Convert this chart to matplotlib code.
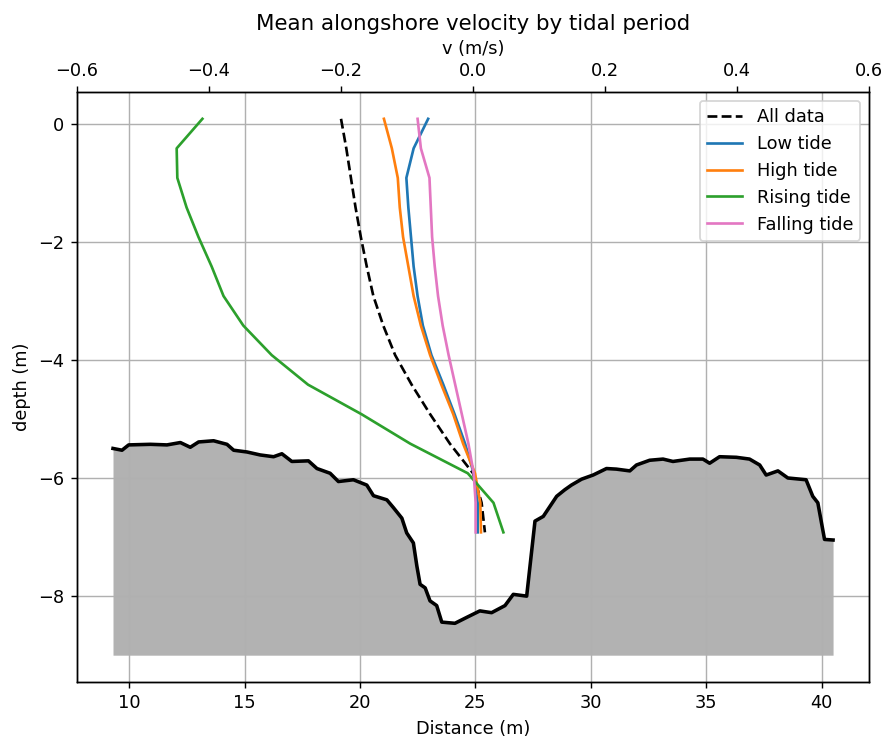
import numpy as np
import matplotlib
matplotlib.use('Agg')
import matplotlib.pyplot as plt

# bathymetry (distance along transect, bed elevation)
bed_x = [9.29, 9.68, 9.97, 10.91, 11.63, 12.21, 12.64, 13.0, 13.65, 14.23, 14.52,
         15.10, 15.67, 16.25, 16.61, 17.04, 17.76, 18.13, 18.70, 19.06, 19.71,
         20.29, 20.58, 21.16, 21.44, 21.81, 22.02, 22.31, 22.46, 22.60, 22.82,
         23.03, 23.32, 23.54, 24.11, 24.62, 25.19, 25.70, 26.28, 26.64, 27.22,
         27.58, 27.94, 28.23, 28.52, 28.87, 29.16, 29.60, 30.10, 30.68, 31.11,
         31.69, 31.98, 32.55, 33.13, 33.56, 34.29, 34.86, 35.15, 35.58, 36.31,
         36.88, 37.32, 37.60, 38.11, 38.54, 39.33, 39.62, 39.84, 40.13, 40.50]
bed_z = [-5.50, -5.53, -5.44, -5.43, -5.44, -5.40, -5.48, -5.39, -5.37, -5.43, -5.53,
         -5.56, -5.61, -5.64, -5.59, -5.72, -5.71, -5.84, -5.92, -6.06, -6.03,
         -6.12, -6.30, -6.37, -6.50, -6.68, -6.93, -7.10, -7.49, -7.80, -7.86,
         -8.08, -8.16, -8.44, -8.46, -8.36, -8.25, -8.28, -8.16, -7.97, -8.00,
         -6.73, -6.65, -6.48, -6.31, -6.20, -6.12, -6.02, -5.95, -5.84, -5.85,
         -5.88, -5.78, -5.70, -5.68, -5.72, -5.68, -5.68, -5.75, -5.64, -5.65,
         -5.68, -5.78, -5.95, -5.88, -6.00, -6.03, -6.31, -6.42, -7.04, -7.05]
bed_bottom = -9.0

# velocity profiles (depth bins, mean alongshore velocity)
depth = [0.08, -0.42, -0.92, -1.42, -1.92, -2.42, -2.92, -3.42, -3.92, -4.42,
         -4.92, -5.42, -5.92, -6.42, -6.92]
v_all = [-0.200, -0.192, -0.185, -0.178, -0.170, -0.161, -0.151, -0.136, -0.118,
         -0.093, -0.065, -0.035, 0.000, 0.013, 0.018]
v_low = [-0.068, -0.090, -0.101, -0.098, -0.094, -0.090, -0.084, -0.076, -0.063,
         -0.045, -0.028, -0.012, 0.001, 0.007, 0.007]
v_high = [-0.135, -0.123, -0.114, -0.111, -0.106, -0.098, -0.090, -0.079, -0.065,
          -0.048, -0.030, -0.015, 0.003, 0.011, 0.012]
v_rising = [-0.410, -0.449, -0.448, -0.434, -0.416, -0.396, -0.378, -0.348, -0.305,
            -0.250, -0.169, -0.095, -0.008, 0.031, 0.046]
v_falling = [-0.084, -0.079, -0.066, -0.064, -0.062, -0.058, -0.053, -0.046, -0.037,
             -0.027, -0.017, -0.007, 0.001, 0.004, 0.004]

fig, ax = plt.subplots(figsize=(885/128, 739/128), dpi=128)
fig.subplots_adjust(left=0.087, right=0.982, top=0.8755, bottom=0.0771)

ax.fill_between(bed_x, bed_z, bed_bottom, color='grey', alpha=0.6, lw=0)
ax.plot(bed_x, bed_z, 'k', lw=2)
ax.set_xlabel('Distance (m)')
ax.set_ylabel('depth (m)')
ax.grid()

ax2 = ax.twiny()
ax2.plot(v_all, depth, 'k--', label='All data')
ax2.plot(v_low, depth, color='tab:blue', label='Low tide')
ax2.plot(v_high, depth, color='tab:orange', label='High tide')
ax2.plot(v_rising, depth, color='tab:green', label='Rising tide')
ax2.plot(v_falling, depth, color='tab:pink', label='Falling tide')
ax2.set_xlim(-0.6, 0.6)
ax2.set_xlabel('v (m/s)')
ax2.legend(loc='upper right')
ax2.set_title('Mean alongshore velocity by tidal period')

fig.savefig('out.png', dpi=128)
